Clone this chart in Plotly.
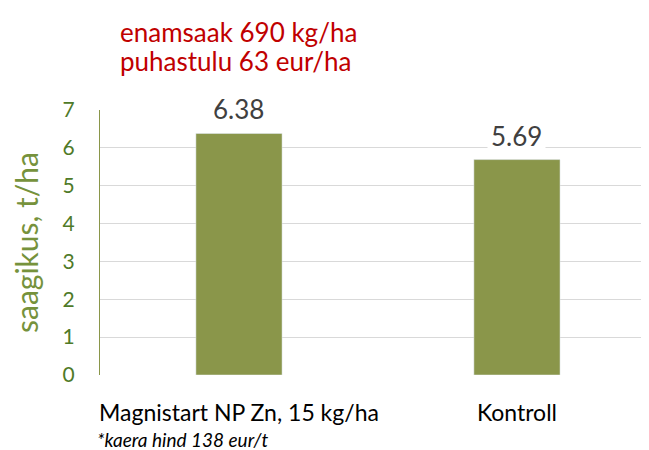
import plotly.graph_objects as go

categories = ["Magnistart NP Zn, 15 kg/ha", "Kontroll"]
values = [6.38, 5.69]
y_ticks = [0, 1, 2, 3, 4, 5, 6, 7]
header_lines = ["enamsaak 690 kg/ha", "puhastulu 63 eur/ha"]
footnote = "*kaera hind 138 eur/t"
y_title = "saagikus, t/ha"

FONT = "Lato"
BAR = "#8a964a"
OFF = 8  # default page body margin
W, H = 649 - OFF, 450 - OFF
L, T, R, B = 100 - OFF, 110 - OFF, W, 375 - OFF
plot_w, plot_h = R - L, B - T


def px_to_paper(px, py):
    return (px - OFF - L) / plot_w, (B - (py - OFF)) / plot_h


fig = go.Figure()
fig.add_trace(go.Bar(x=categories, y=values, marker_color=BAR, width=0.31,
                     hoverinfo="skip"))

annotations = []
for c, v in zip(categories, values):
    annotations.append(dict(x=c, y=v, xref="x", yref="y", text=f"{v:.2f}",
                            showarrow=False, yanchor="middle", yshift=24,
                            bgcolor="white", borderpad=3,
                            font=dict(family=FONT, size=26, color="#404040")))
for i, line in enumerate(header_lines):
    x, y = px_to_paper(118, 32 + 29 * i)
    annotations.append(dict(x=x, y=y, xref="paper", yref="paper",
                            xanchor="left", yanchor="middle", text=line, showarrow=False,
                            font=dict(family=FONT, size=26, color="#c00000")))
x, y = px_to_paper(95, 439)
annotations.append(dict(x=x, y=y, xref="paper", yref="paper",
                        xanchor="left", yanchor="middle", text=f"<i>{footnote}</i>",
                        showarrow=False,
                        font=dict(family=FONT, size=19, color="#000000")))

fig.update_layout(
    width=W, height=H,
    margin=dict(l=L, r=W - R, t=T, b=H - B, autoexpand=False),
    paper_bgcolor="white", plot_bgcolor="white",
    showlegend=False,
    font=dict(family=FONT),
    annotations=annotations,
)

fig.update_xaxes(range=[-0.5, 1.475], showline=False, ticks="", automargin=False,
                 ticklabelstandoff=22,
                 tickfont=dict(family=FONT, size=23, color="#000000"))
fig.update_yaxes(range=[0, 7], tickvals=y_ticks, showgrid=True, gridcolor="#d9d9d9",
                 gridwidth=1, zeroline=False, showline=True, linecolor=BAR, linewidth=1,
                 ticks="", ticklabelstandoff=20, automargin=False,
                 tickfont=dict(family=FONT, size=21, color="#4f7a28"),
                 title=dict(text=y_title, standoff=27,
                            font=dict(family=FONT, size=30, color="#76923c")))

fig.write_html("out.html")
